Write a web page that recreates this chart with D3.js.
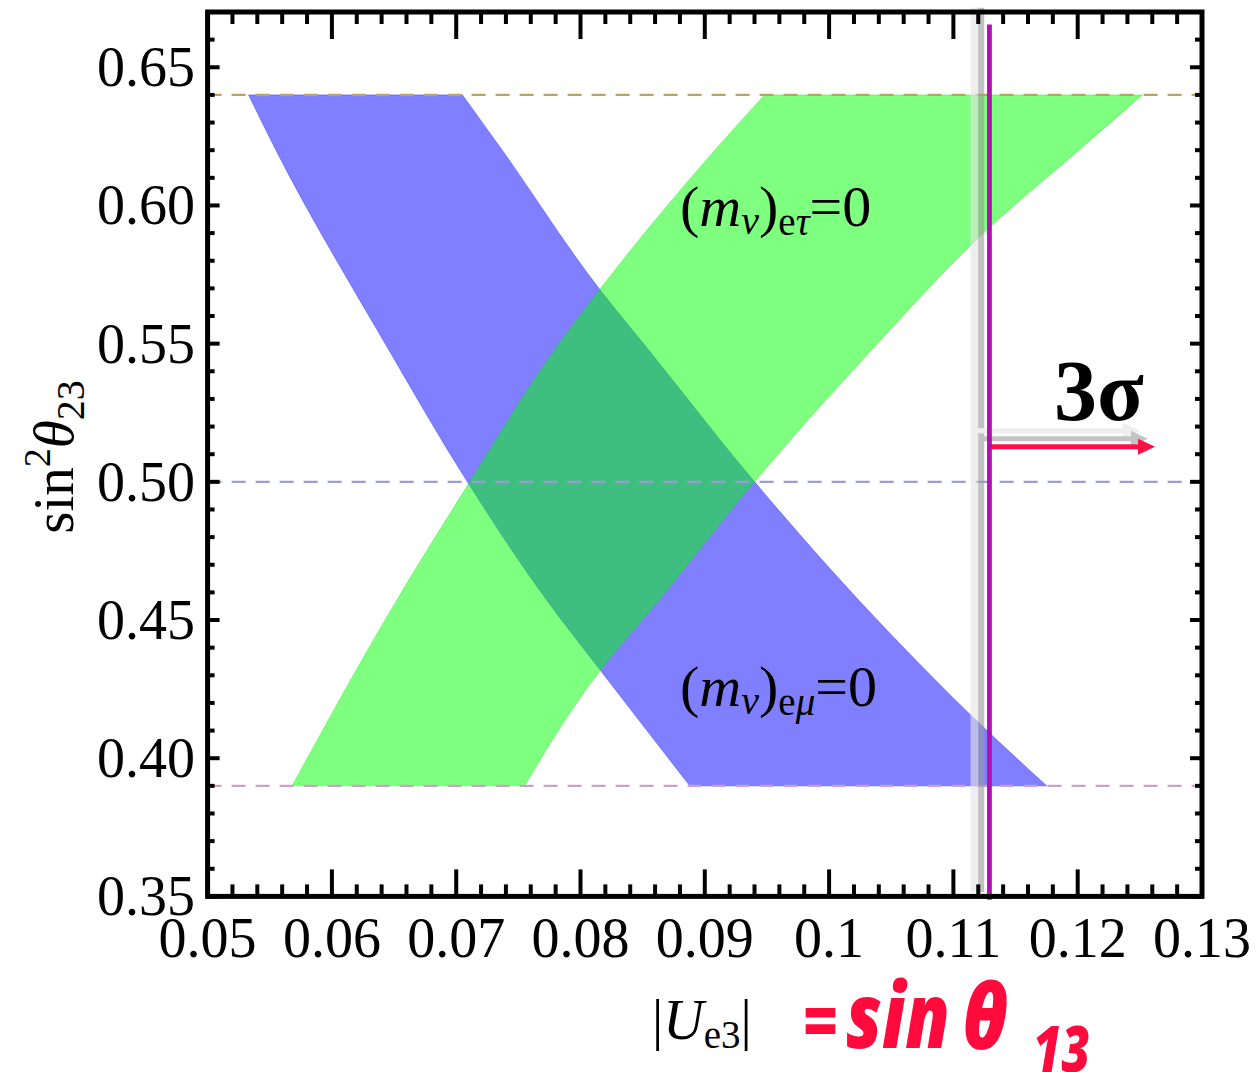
<!DOCTYPE html>
<html>
<head>
<meta charset="utf-8">
<script src="https://cdn.jsdelivr.net/npm/d3@7"></script>
<style>
  html, body { margin: 0; padding: 0; background: #fff; }
  svg { display: block; }
  .serif { font-family: "Liberation Serif", "Times New Roman", serif; }
</style>
</head>
<body>
<svg id="chart" width="1256" height="1072"></svg>
<script>
// Axis extents and tick labels
const xDomain = [0.05, 0.13];
const yDomain = [0.35, 0.67];
const xTickLabels = ["0.05", "0.06", "0.07", "0.08", "0.09", "0.1", "0.11", "0.12", "0.13"];
const yTickLabels = ["0.35", "0.40", "0.45", "0.50", "0.55", "0.60", "0.65"];

// Band boundaries as [sin^2 theta23, |Ue3|] pairs, top to bottom
const emuLeft  = [[0.64, 0.0533], [0.62, 0.0555], [0.5476, 0.0646], [0.50, 0.0709], [0.4571, 0.0773], [0.4318, 0.0816], [0.39, 0.0888]];
const emuRight = [[0.64, 0.0705], [0.62, 0.0737], [0.5693, 0.0816], [0.5476, 0.0855], [0.50, 0.0940], [0.4571, 0.1024], [0.41, 0.1127], [0.39, 0.1175]];
const etauLeft  = [[0.64, 0.0948], [0.62, 0.0908], [0.5693, 0.0815], [0.5476, 0.0779], [0.50, 0.0711], [0.4571, 0.0652], [0.39, 0.0568]];
const etauRight = [[0.64, 0.1252], [0.62, 0.1201], [0.592, 0.1129], [0.5476, 0.1034], [0.50, 0.0940], [0.4571, 0.0863], [0.4318, 0.0816], [0.39, 0.0755]];

// Horizontal reference levels of sin^2 theta23
const refLevels = [0.64, 0.50, 0.39];
const refColors = ["#bba35c", "#9c9cd6", "#c9a2c6"];

// sin theta13 marker and its 3 sigma arrow
const sinT13 = 0.1129;
const markerSpan = [0.3488, 0.6655];
const ghostLines = [{x: 0.1117, w: 8, c: "#e2e2e2", o: 0.6}, {x: 0.11224, w: 6, c: "#999999", o: 0.6}];
const arrowRows = [
  {x0: 0.1117, x1: 0.1250, y: 0.5185, c: "#eeeeee"},
  {x0: 0.11224, x1: 0.12565, y: 0.5156, c: "#c4c4c4"},
  {x0: sinT13, x1: 0.12622, y: 0.5127, c: "#ff1044"}
];

const svg = d3.select("#chart");
const x = d3.scaleLinear().domain(xDomain).range([207.6, 1202]);
const y = d3.scaleLinear().domain(yDomain).range([896.4, 12]);

// Bands: left edge down, right edge back up
function bandPath(left, right) {
  const line = d3.line().x(d => x(d[1])).y(d => y(d[0])).curve(d3.curveMonotoneY);
  const a = line(left);
  const b = line(right.slice().reverse());
  return a + "L" + b.slice(1) + "Z";
}
svg.append("path").attr("d", bandPath(emuLeft, emuRight))
  .attr("fill", "rgb(0,0,255)").attr("fill-opacity", 0.5)
  .attr("stroke", "rgb(60,60,255)").attr("stroke-opacity", 0.5).attr("stroke-width", 1);
svg.append("path").attr("d", bandPath(etauLeft, etauRight))
  .attr("fill", "rgb(0,255,0)").attr("fill-opacity", 0.5)
  .attr("stroke", "rgb(0,220,0)").attr("stroke-opacity", 0.3).attr("stroke-width", 1);

// Dashed reference levels
svg.selectAll("line.ref").data(refLevels).join("line").attr("class", "ref")
  .attr("x1", x(xDomain[0])).attr("x2", x(xDomain[1]))
  .attr("y1", d => y(d)).attr("y2", d => y(d))
  .attr("stroke", (d, i) => refColors[i]).attr("stroke-width", 2.2)
  .attr("stroke-dasharray", "14 10");

// Ghost copies of the marker line
svg.selectAll("line.ghost").data(ghostLines).join("line").attr("class", "ghost")
  .attr("x1", d => x(d.x)).attr("x2", d => x(d.x))
  .attr("y1", y(0.6715)).attr("y2", y(0.3515))
  .attr("stroke", d => d.c).attr("stroke-opacity", d => d.o).attr("stroke-width", d => d.w);

// Arrows
arrowRows.forEach(a => {
  const tip = x(a.x1), yy = y(a.y);
  svg.append("line").attr("x1", x(a.x0)).attr("x2", tip - 14).attr("y1", yy).attr("y2", yy)
    .attr("stroke", a.c).attr("stroke-width", 5);
  svg.append("path").attr("d", `M${tip},${yy} L${tip - 17},${yy - 8} L${tip - 17},${yy + 8} Z`)
    .attr("fill", a.c);
});

// sin theta13 marker
svg.append("line").attr("x1", x(sinT13)).attr("x2", x(sinT13))
  .attr("y1", y(markerSpan[1])).attr("y2", y(markerSpan[0]))
  .attr("stroke", "#b20fb2").attr("stroke-width", 4.8);

// Ticks on all four sides
const xMajor = d3.range(0, 9).map(i => 0.05 + i * 0.01);
const xMinor = d3.range(0, 41).map(i => 0.05 + i * 0.002).filter((d, i) => i % 5 !== 0);
const yMajor = d3.range(0, 7).map(i => 0.35 + i * 0.05);
const yMinor = d3.range(0, 33).map(i => 0.35 + i * 0.01).filter((d, i) => i % 5 !== 0);
const tickG = svg.append("g").attr("stroke", "#000").attr("stroke-width", 4);
const x0 = x(xDomain[0]), x1 = x(xDomain[1]), y0 = y(yDomain[0]), y1 = y(yDomain[1]);
[[xMajor, 27], [xMinor, 12]].forEach(([arr, len]) => {
  arr.forEach(v => {
    tickG.append("line").attr("x1", x(v)).attr("x2", x(v)).attr("y1", y0).attr("y2", y0 - len);
    tickG.append("line").attr("x1", x(v)).attr("x2", x(v)).attr("y1", y1).attr("y2", y1 + len);
  });
});
[[yMajor, 12], [yMinor, 7]].forEach(([arr, len]) => {
  arr.forEach(v => {
    tickG.append("line").attr("y1", y(v)).attr("y2", y(v)).attr("x1", x0).attr("x2", x0 + len);
    tickG.append("line").attr("y1", y(v)).attr("y2", y(v)).attr("x1", x1).attr("x2", x1 - len);
  });
});

// Frame
svg.append("rect").attr("x", x0).attr("y", y1).attr("width", x1 - x0).attr("height", y0 - y1)
  .attr("fill", "none").attr("stroke", "#000").attr("stroke-width", 5);

// Tick labels
svg.selectAll("text.xt").data(xTickLabels).join("text").attr("class", "xt serif")
  .attr("x", d => x(+d)).attr("y", 957).attr("text-anchor", "middle")
  .attr("font-size", 56).text(d => d);
svg.selectAll("text.yt").data(yTickLabels).join("text").attr("class", "yt serif")
  .attr("x", 195).attr("y", d => y(+d) + 19).attr("text-anchor", "end")
  .attr("font-size", 56).text(d => d);

// Axis titles
const yt = svg.append("text").attr("class", "serif").attr("font-size", 57)
  .attr("transform", "translate(73,457) rotate(-90)").attr("text-anchor", "middle");
yt.append("tspan").text("sin");
yt.append("tspan").attr("font-size", 38).attr("dy", -23).text("2");
yt.append("tspan").attr("font-style", "italic").attr("dy", 23).text("θ");
yt.append("tspan").attr("font-size", 40).attr("dy", 11).text("23");

const xt = svg.append("text").attr("class", "serif").attr("font-size", 56)
  .attr("x", 652).attr("y", 1039);
xt.append("tspan").text("|");
xt.append("tspan").attr("font-style", "italic").text("U");
xt.append("tspan").attr("font-size", 39).attr("dy", 9).text("e3");
xt.append("tspan").attr("dy", -9).text("|");

// Red annotation
const redFont = "'Open Sans', 'Noto Sans', sans-serif";
const red = "#ff0a3c";
function redText(str, xPos, yPos, size, len) {
  svg.append("text").attr("x", xPos).attr("y", yPos)
    .attr("font-family", redFont).attr("font-weight", 800).attr("font-style", "italic")
    .attr("font-size", size).attr("fill", red)
    .attr("textLength", len).attr("lengthAdjust", "spacingAndGlyphs").text(str);
}
redText("=", 803, 1047, 72, 35);
redText("sin", 846, 1048, 90, 104);
redText("θ", 962, 1049, 90, 46);
redText("13", 1033, 1072, 64, 57);

// Band labels
function bandLabel(sub, xPos, yPos) {
  const t = svg.append("text").attr("class", "serif").attr("font-size", 58)
    .attr("x", xPos).attr("y", yPos);
  t.append("tspan").text("(");
  t.append("tspan").attr("font-style", "italic").text("m");
  t.append("tspan").attr("font-style", "italic").attr("font-size", 40).attr("dy", 8).text("ν");
  t.append("tspan").attr("dy", -8).text(")");
  t.append("tspan").attr("font-size", 39).attr("dy", 9).text("e");
  t.append("tspan").attr("font-size", 39).attr("font-style", "italic").text(sub);
  t.append("tspan").attr("dy", -9).text("=0");
}
bandLabel("τ", 680, 226);
bandLabel("μ", 680, 706);

// 3 sigma label
svg.append("text").attr("class", "serif").attr("font-weight", "bold")
  .attr("font-size", 86).attr("x", 1054).attr("y", 420).text("3σ");
</script>
</body>
</html>
